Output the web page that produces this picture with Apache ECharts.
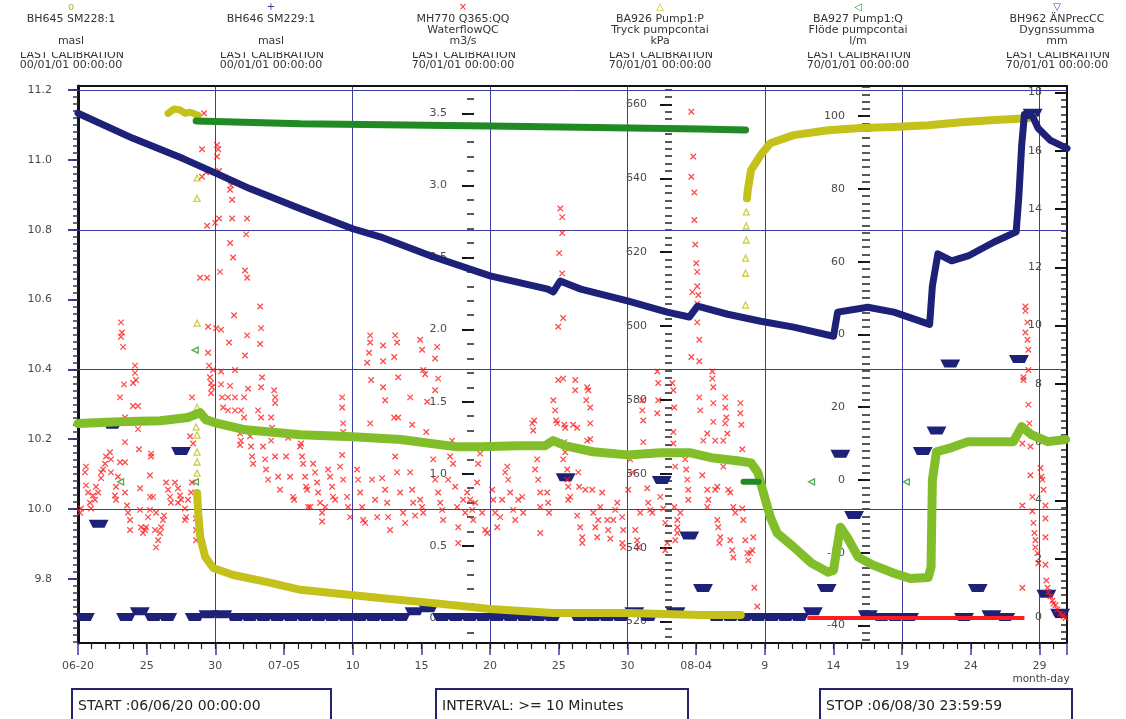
<!DOCTYPE html>
<html><head><meta charset="utf-8">
<script src="https://cdn.jsdelivr.net/npm/echarts@6/dist/echarts.min.js"></script>
<style>html,body{margin:0;padding:0;background:#fff}#c{width:1126px;height:719px}</style>
</head><body><div id="c"></div><script>
// ---------- tick labels ----------
const xTickLabels = ['06-20','25','30','07-05','10','15','20','25','30','08-04','9','14','19','24','29'];
const maslTicks = [9.8,10.0,10.2,10.4,10.6,10.8,11.0,11.2];
const maslGridLines = [10.0,10.4,10.8,11.2];
const flowTicks = [0,0.5,1.0,1.5,2.0,2.5,3.0,3.5];
const kpaTicks = [520,540,560,580,600,620,640,660];
const lpmTicks = [-40,-20,0,20,40,60,80,100];
const mmTicks = [0,2,4,6,8,10,12,14,16,18];

// ---------- data (x = days since 06/06/20 00:00) ----------
// BH645 SM228:1 (masl)
const bh645 = [[0,10.245],[3.0,10.25],[6.0,10.253],[8.0,10.262],[8.9,10.276],[9.3,10.256],[10.0,10.247],[12.2,10.227],[16.2,10.213],[20.0,10.207],[23.5,10.199],[27.6,10.178],[29.3,10.178],[32.0,10.181],[34.0,10.181],[34.6,10.196],[35.5,10.181],[37.5,10.164],[40.0,10.155],[42.4,10.161],[44.6,10.161],[46.1,10.147],[48.0,10.138],[49.0,10.132],[49.5,10.104],[49.9,10.046],[50.4,9.977],[50.9,9.931],[52.1,9.891],[53.4,9.845],[54.6,9.819],[55.0,9.824],[55.5,9.948],[56.0,9.919],[56.8,9.862],[57.9,9.839],[59.4,9.816],[60.6,9.801],[61.9,9.804],[62.1,9.833],[62.2,10.083],[62.5,10.164],[63.6,10.176],[64.8,10.193],[66.7,10.193],[68.1,10.193],[68.7,10.236],[69.4,10.213],[70.6,10.193],[71.9,10.199]];
// BH646 SM229:1 (masl)
const bh646 = [[0,11.134],[4.0,11.062],[7.65,11.004],[10.1,10.961],[12.5,10.918],[16.2,10.86],[20.0,10.803],[22.0,10.78],[25.7,10.725],[30.0,10.668],[34.2,10.63],[34.6,10.622],[35.1,10.653],[36.6,10.63],[40.0,10.596],[42.9,10.564],[44.5,10.55],[45.1,10.581],[47.3,10.558],[49.7,10.538],[52.1,10.521],[55.0,10.495],[55.3,10.564],[57.5,10.578],[59.4,10.564],[62.0,10.529],[62.2,10.639],[62.6,10.731],[63.6,10.711],[64.8,10.725],[66.7,10.765],[68.3,10.794],[68.5,10.898],[68.7,11.042],[68.9,11.13],[69.5,11.125],[69.9,11.091],[70.8,11.056],[72.0,11.033]];
// MH770 Q365:QQ Waterflow (m3/s)
const mh770 = [
[0.15,0.73],[0.22,0.76],[0.58,1.05],[0.51,1.01],[0.58,0.92],[0.73,0.87],[1.09,0.85],[1.24,0.82],[0.95,0.76],[0.87,0.80],[1.31,0.91],[1.46,0.87],
[2.33,1.15],[2.04,1.12],[1.97,1.07],[1.82,1.03],[1.68,1.01],[1.68,0.97],[2.40,1.10],[2.40,1.01],
[3.06,1.08],[3.42,1.08],[2.91,0.98],[2.77,0.91],[2.69,0.85],[2.77,0.82],
[3.13,2.05],[3.20,1.98],[3.13,1.95],[3.28,1.88],
[4.15,1.75],[4.15,1.70],[4.22,1.65],[4.01,1.63],[3.35,1.62],[3.06,1.53],[4.01,1.47],[4.37,1.47],[3.42,1.39],[4.37,1.31],[3.42,1.22],[4.44,1.17],
[3.42,0.87],[3.57,0.78],[3.64,0.73],[3.79,0.68],[3.79,0.61],[4.52,0.90],[4.52,0.75],[4.59,0.63],[4.73,0.59],[4.88,0.61],[4.95,0.63],[5.10,0.70],[5.24,0.75],
[5.32,1.14],[5.32,1.12],[5.24,0.99],[5.24,0.84],[5.46,0.84],
[5.68,0.73],[5.61,0.61],[5.83,0.54],[5.68,0.49],[5.97,0.59],[6.05,0.63],[6.19,0.68],[6.26,0.71],
[6.41,0.94],[6.56,0.89],[6.70,0.84],[6.77,0.80],[7.06,0.94],[7.28,0.90],[7.43,0.85],[7.28,0.80],[7.50,0.82],
[7.79,0.76],[7.87,0.70],[7.79,0.68],[8.01,0.82],[8.23,0.87],[8.30,0.94],
[8.30,1.53],[8.16,1.26],[8.38,1.21],[8.59,0.69],[8.59,0.61],[8.59,0.54],
[9.18,3.50],[9.03,3.25],[10.12,3.28],[10.20,3.25],[10.12,3.20],[9.03,3.06],[9.32,3.09],[10.27,3.10],[11.14,3.00],[11.07,2.97],[11.22,2.90],
[9.40,2.72],[9.98,2.74],[10.27,2.77],[11.22,2.77],[12.31,2.77],[12.24,2.66],[11.07,2.60],[11.29,2.50],[8.89,2.36],[9.40,2.36],[10.34,2.40],[12.16,2.41],[12.31,2.36],
[11.36,2.10],[13.26,2.16],[13.33,2.01],[9.47,2.02],[10.05,2.01],[10.42,2.00],[11.00,1.91],[12.31,1.96],[13.26,1.90],[12.16,1.82],[9.47,1.84],
[9.54,1.75],[9.83,1.72],[10.42,1.71],[11.43,1.72],[13.40,1.67],[9.61,1.67],[9.69,1.63],[9.76,1.60],[9.69,1.56],[13.33,1.60],[12.38,1.59],[10.42,1.62],[11.07,1.61],
[10.49,1.53],[10.92,1.53],[11.43,1.53],[12.09,1.53],[10.56,1.46],[10.92,1.44],[11.43,1.44],[11.87,1.44],[12.09,1.39],[13.11,1.44],[13.33,1.39],
[14.28,1.58],[14.35,1.53],[14.35,1.49],[14.06,1.39],[14.13,1.32],[10.71,1.34],[11.51,1.32],[11.80,1.28],[11.87,1.23],[11.80,1.20],
[12.53,1.26],[12.60,1.19],[12.67,1.12],[12.75,1.07],[13.47,1.19],[13.62,1.10],[13.69,1.03],[13.84,0.96],[14.06,1.23],[14.35,1.12],[14.57,0.98],[14.71,0.89],
[15.30,1.25],[15.15,1.12],[15.44,0.98],[15.66,0.84],[15.73,0.82],[16.24,1.21],[16.39,1.07],[16.61,0.91],[16.75,0.77],
[16.17,1.19],[16.31,1.12],[16.53,0.98],[16.68,0.89],[16.90,0.77],
[17.12,1.07],[17.26,1.01],[17.41,0.94],[17.48,0.87],[17.63,0.80],[17.77,0.73],[17.77,0.67],
[17.99,0.77],[18.21,1.03],[18.35,0.98],[18.50,0.91],[18.57,0.84],[18.72,0.82],
[19.23,1.53],[19.23,1.46],[19.30,1.35],[19.30,1.29],[19.23,1.13],[19.08,1.05],[19.30,0.96],[19.59,0.84],[19.66,0.77],[19.81,0.70],
[20.32,1.03],[20.39,0.96],[20.54,0.87],[20.68,0.77],[20.76,0.68],[20.90,0.66],
[21.05,1.77],[21.27,1.96],[21.27,1.91],[21.19,1.84],[21.34,1.65],[21.27,1.35],[21.41,0.96],[21.63,0.82],[21.78,0.70],
[22.21,1.89],[22.21,1.78],[22.21,1.60],[22.36,1.51],[22.14,0.97],[22.36,0.89],[22.51,0.80],[22.58,0.70],[22.72,0.61],
[23.09,1.96],[23.23,1.91],[23.02,1.81],[23.31,1.67],[23.02,1.39],[23.31,1.39],
[23.09,1.12],[23.23,1.01],[23.45,0.87],[23.67,0.73],[23.82,0.66],[24.18,1.53],[24.33,1.34],
[24.18,1.01],[24.33,0.89],[24.40,0.80],[24.54,0.71],[24.76,1.22],
[24.91,1.93],[25.05,1.86],[25.13,1.72],[25.27,1.69],[24.91,0.82],[25.05,0.77],[25.13,0.73],[25.42,1.50],[25.35,1.29],
[26.15,1.88],[26.00,1.80],[26.22,1.66],[26.00,1.58],
[25.86,1.10],[26.00,0.96],[26.22,0.87],[26.37,0.80],[26.51,0.75],[26.58,0.68],[26.95,0.96],[27.09,1.12],[27.24,1.23],
[27.31,1.07],[27.46,0.91],[27.60,0.77],[27.68,0.63],[27.68,0.52],[28.04,0.82],[28.19,0.73],[28.33,0.87],
[28.55,0.82],[28.70,0.75],[28.77,0.68],[29.28,1.14],[29.13,1.07],[29.06,0.94],[28.92,0.80],[29.42,0.73],[29.64,0.61],[29.79,0.59],
[30.15,0.89],[30.23,0.82],[30.37,0.73],[30.52,0.63],[30.74,0.70],[30.88,0.82],[31.10,1.01],[31.25,1.05],
[31.32,0.96],[31.46,0.87],[31.68,0.75],[31.83,0.68],[32.05,0.82],[32.34,0.84],[32.41,0.73],
[33.07,1.35],[33.14,1.30],[33.21,1.37],[33.14,1.19],[33.43,1.10],[33.28,1.03],[33.50,0.96],[33.65,0.87],[33.65,0.77],[33.65,0.59],
[34.16,0.87],[34.23,0.80],[34.30,0.73],[34.60,1.51],[34.74,1.44],[34.81,1.37],[34.89,1.35],
[34.96,1.65],[35.32,1.66],[34.96,2.02],[35.32,2.08],[35.11,2.84],[35.25,2.78],[35.25,2.67],[35.03,2.53],[35.25,2.39],
[35.47,1.32],[35.32,1.10],[35.62,1.03],[35.62,0.96],[35.69,0.91],[35.83,0.84],
[36.20,1.65],[36.20,1.58],[36.34,1.32],[36.42,1.01],[36.49,0.91],
[35.40,1.34],[36.05,1.34],[37.29,1.35],[37.07,1.23],[37.29,1.24],[37.07,1.60],[37.15,1.58],[37.00,1.51],[37.29,1.46],
[35.40,1.22],[35.47,1.15],[35.69,0.82],[36.34,0.71],[36.56,0.63],[36.71,0.56],[36.71,0.52],[36.93,0.89],[37.44,0.89],
[37.51,0.73],[37.66,0.63],[37.80,0.56],[37.87,0.68],[38.02,0.77],[38.16,0.87],
[38.53,0.68],[38.60,0.61],[38.75,0.55],[38.97,0.68],[39.11,0.75],[39.26,0.80],
[39.62,0.70],[39.69,0.61],[39.62,0.52],[39.69,0.49],[40.06,0.89],[40.20,1.10],[40.35,1.01],
[40.57,0.61],[40.71,0.54],[40.93,0.73],[40.79,0.49],[41.08,1.51],[41.08,1.44],[41.15,1.37],[41.15,1.22],
[41.44,0.90],[41.51,0.80],[41.66,0.75],[41.81,0.73],[42.24,1.51],[42.17,1.42],[42.17,1.15],[42.17,1.71],[42.24,1.63],
[42.39,0.84],[42.61,0.76],[42.75,0.66],[42.90,0.52],[42.75,0.47],
[43.26,1.63],[43.34,1.58],[43.41,1.46],[43.34,1.29],[43.34,1.21],[43.48,1.05],[43.41,0.77],[43.63,0.68],[43.63,0.59],[43.48,0.54],
[44.21,1.10],[44.28,1.03],[44.36,0.96],[44.43,0.89],[44.43,0.82],[43.85,0.73],[43.63,0.63],
[44.65,3.51],[44.79,3.20],[44.65,3.06],[44.87,2.95],[44.87,2.76],[44.94,2.59],[45.01,2.46],[45.08,2.40],[45.08,2.30],[44.72,2.26],[45.16,2.24],[45.08,2.18],[45.08,2.05],[45.23,1.93],[44.65,1.81],[45.23,1.78],
[45.23,1.53],[45.30,1.44],[45.52,1.23],[45.81,1.28],
[46.18,1.71],[46.18,1.66],[46.25,1.60],[46.25,1.49],[46.25,1.36],[46.39,1.23],
[45.45,0.99],[45.81,0.89],[45.89,0.82],[45.81,0.77],[46.39,0.89],[46.54,0.91],
[46.54,0.68],[46.61,0.63],[46.76,0.56],[46.69,0.52],
[47.12,1.53],[47.12,1.46],[47.20,1.39],[47.12,1.35],[47.27,1.28],[46.98,1.23],
[46.98,1.05],[47.34,0.89],[47.49,0.87],[47.71,0.77],[47.85,0.73],[47.49,0.54],[47.63,0.47],[47.71,0.42],
[48.22,1.49],[48.22,1.42],[48.29,1.34],[48.36,1.17],
[48.36,0.76],[48.43,0.68],[48.58,0.54],[48.73,0.45],[48.80,0.40],[48.94,0.45],[49.09,0.47],[49.16,0.56],[49.24,0.21],[49.45,0.08],
[68.97,2.16],[68.97,2.13],[69.12,2.05],[68.97,1.98],[69.12,1.93],[69.19,1.86],[68.83,1.67],[69.19,1.72],
[68.83,1.65],[69.19,1.48],[69.26,1.35],[68.75,1.21],[69.34,1.19],
[70.07,1.04],[70.14,0.98],[70.21,0.96],[70.29,0.89],[69.34,0.99],[69.48,0.84],
[68.75,0.78],[69.48,0.74],[69.56,0.66],[69.63,0.59],[69.70,0.54],[69.70,0.49],[69.85,0.45],[69.92,0.38],
[70.43,0.78],[70.43,0.69],[70.43,0.56],[70.43,0.37],[70.50,0.26],[70.58,0.21],[70.65,0.18],[70.79,0.15],[70.94,0.12],[71.01,0.10],[71.16,0.09],[71.30,0.06],[71.52,0.03],[71.67,0.02],[71.74,0.01],[71.89,0.0],[68.75,0.21]
];
const mh770Zero = [[53.1,0],[68.9,0]];
// BA926 Pump1:P (kPa)
const ba926Plateau = [[6.56,657.6],[7.0,658.8],[7.43,658.5],[7.8,657.6],[8.16,657.9],[8.75,657.1]];
const ba926Decay = [[8.67,554.8],[8.75,549.4],[8.9,542.9],[9.26,537.5],[9.84,534.5],[11.3,532.6],[13.8,530.7],[16.2,528.6],[22.0,526.4],[25.9,525.0],[30.0,523.4],[34.6,522.3],[40.0,522.3],[45.3,521.8],[48.25,521.8]];
const ba926Rise = [[48.7,634.6],[48.76,636.8],[49.0,642.2],[49.7,646.3],[50.4,649.5],[52.1,651.7],[54.6,653.0],[57.0,653.6],[59.4,653.9],[61.9,654.4],[64.3,655.2],[66.7,655.8],[69.2,656.3],[69.5,656.6]];
const ba926Points = [[8.67,640.1],[8.67,634.6],[8.67,600.8],[8.67,578],[8.6,572.7],[8.67,570.5],[8.67,565.9],[8.67,563.2],[8.67,560.2],[48.6,605.7],[48.6,614.3],[48.6,618.4],[48.65,623.3],[48.65,627.1],[48.65,630.9]];
// BA927 Pump1:Q (l/m)
const ba927Band = [[8.6,98.7],[16.2,97.9],[30.0,97.3],[45.3,96.5],[48.6,96.2]];
const ba927Zero = [[48.45,-0.5],[49.55,-0.5]];
const ba927Points = [[3.1,-0.5],[8.53,35.7],[8.55,-0.5],[53.4,-0.5],[60.3,-0.5]];
// BH962 ANPrecCC daily sums (mm), one per day from 06-20
const bh962Daily = [0,3.2,6.6,0,0.2,0,0,5.7,0,0.1,0.1,0,0,0,0,0,0,0,0,0,0,0,0,0,0.2,0.3,0,0,0,0,0,0,0,0,0,4.8,0,0,0,0,0.2,0,4.7,0.2,2.8,1.0,0,0,0,0,0,0,0,0.2,1.0,5.6,3.5,0.1,0,0,0,5.7,6.4,8.7,0,1.0,0.1,0,8.85,17.3,0.8,0.15];

// ---------- helpers ----------
function steps(a, b, s) { const out = []; const n = Math.round((b - a) / s); for (let i = 0; i <= n; i++) out.push(+(a + i * s).toFixed(4)); return out; }
const FONT = 'DejaVu Sans';
const NAVY = '#1d2278';
const GRIDC = '#3d3d9e';

function majorAxis(o) {
  return {
    type: 'value', min: o.min, max: o.max, position: o.pos, offset: o.offset || 0,
    axisLine: { show: !!o.line, onZero: false, lineStyle: { color: '#111', width: o.line || 1 } },
    axisTick: { show: true, inside: !!o.inside, length: o.tickLen || 12, customValues: o.ticks, lineStyle: { color: o.tickColor || '#111', width: 2 } },
    axisLabel: { show: true, inside: !!o.inside, margin: o.margin, customValues: o.ticks, formatter: o.fmt, color: '#4a4a4a', fontFamily: FONT, fontSize: 11, hideOverlap: false },
    splitLine: { show: false }, minorTick: { show: false }, axisPointer: { show: false }
  };
}
function minorAxis(o) {
  return {
    type: 'value', min: o.min, max: o.max, position: o.pos, offset: o.offset || 0,
    axisLine: { show: false, onZero: false },
    axisTick: { show: true, inside: !!o.inside, length: o.tickLen || 7, customValues: o.ticks, lineStyle: { color: o.tickColor || '#222', width: 1.5 } },
    axisLabel: { show: false }, splitLine: { show: false }, axisPointer: { show: false }
  };
}
const f1 = v => v.toFixed(1);
const f0 = v => String(Math.round(v));

const yAxes = [
  majorAxis({ min: 9.616, max: 11.212, pos: 'left', line: 3, ticks: maslTicks, tickLen: 10, tickColor: GRIDC, margin: 26, fmt: f1 }),
  minorAxis({ min: 9.616, max: 11.212, pos: 'left', ticks: steps(9.62, 11.2, 0.02), tickLen: 5, tickColor: '#333366' }),
  majorAxis({ min: -0.173, max: 3.689, pos: 'left', offset: -396, ticks: flowTicks, tickLen: 12, margin: 27, fmt: f1 }),
  minorAxis({ min: -0.173, max: 3.689, pos: 'left', offset: -396, ticks: steps(-0.1, 3.6, 0.1), tickLen: 7 }),
  majorAxis({ min: 514.2, max: 665, pos: 'left', offset: -594, ticks: kpaTicks, tickLen: 12, margin: 25, fmt: f0 }),
  minorAxis({ min: 514.2, max: 665, pos: 'left', offset: -594, ticks: steps(516, 664, 2), tickLen: 7 }),
  majorAxis({ min: -44.8, max: 108.3, pos: 'left', offset: -792, ticks: lpmTicks, tickLen: 12, margin: 25, fmt: f0 }),
  minorAxis({ min: -44.8, max: 108.3, pos: 'left', offset: -792, ticks: steps(-44, 108, 2), tickLen: 8 }),
  majorAxis({ min: -0.89, max: 18.22, pos: 'right', line: 2, inside: true, ticks: mmTicks, tickLen: 12, margin: 25, fmt: f0 }),
  minorAxis({ min: -0.89, max: 18.22, pos: 'right', inside: true, ticks: steps(-0.75, 18, 0.25), tickLen: 6 })
];

const xAxes = [
  { type: 'value', min: 0, max: 72, interval: 5, position: 'bottom',
    axisLine: { onZero: false, lineStyle: { color: '#111', width: 2 } },
    axisTick: { length: 12, lineStyle: { color: GRIDC, width: 1.5 } },
    axisLabel: { margin: 18, color: '#4a4a4a', fontFamily: FONT, fontSize: 11, hideOverlap: false,
      formatter: v => (v % 5 === 0 && v / 5 < xTickLabels.length) ? xTickLabels[v / 5] : '' },
    splitLine: { show: false }, minorTick: { show: false } },
  { type: 'value', min: 0, max: 72, interval: 10, position: 'top',
    axisLine: { show: true, onZero: false, lineStyle: { color: '#111', width: 2 } },
    axisTick: { show: false }, axisLabel: { show: false },
    splitLine: { show: true, lineStyle: { color: GRIDC, width: 1 } } },
  { type: 'value', min: 0, max: 72, position: 'bottom',
    axisLine: { show: false, onZero: false },
    axisTick: { show: true, length: 6, customValues: steps(1, 71, 1), lineStyle: { color: '#222', width: 1.2 } },
    axisLabel: { show: false }, splitLine: { show: false } }
];

const lineBase = { type: 'line', showSymbol: false, symbol: 'none', silent: true, animation: false, connectNulls: false };

const series = [
  Object.assign({}, lineBase, { name: 'grid', data: [], yAxisIndex: 0,
    markLine: { z: 1, silent: true, symbol: 'none', label: { show: false }, animation: false,
      lineStyle: { color: GRIDC, width: 1, type: 'solid' },
      data: maslGridLines.map(v => ({ yAxis: v })) } }),
  Object.assign({}, lineBase, { name: 'BH645', data: bh645, yAxisIndex: 0, lineStyle: { color: '#82be2a', width: 9, cap: 'round', join: 'round' } }),
  Object.assign({}, lineBase, { name: 'BA926a', data: ba926Plateau, yAxisIndex: 4, lineStyle: { color: '#c3c11a', width: 7, cap: 'round', join: 'round' } }),
  Object.assign({}, lineBase, { name: 'BA926b', data: ba926Decay, yAxisIndex: 4, lineStyle: { color: '#c3c11a', width: 8, cap: 'round', join: 'round' } }),
  Object.assign({}, lineBase, { name: 'BA926c', data: ba926Rise, yAxisIndex: 4, lineStyle: { color: '#c3c11a', width: 8, cap: 'round', join: 'round' } }),
  { type: 'scatter', name: 'BA926p', data: ba926Points, yAxisIndex: 4, symbol: 'triangle', symbolSize: 6, silent: true, animation: false,
    itemStyle: { color: 'rgba(0,0,0,0)', borderColor: '#c3c11a', borderWidth: 1.3 } },
  Object.assign({}, lineBase, { name: 'BA927a', data: ba927Band, yAxisIndex: 6, lineStyle: { color: '#218a24', width: 7, cap: 'round' } }),
  Object.assign({}, lineBase, { name: 'BA927b', data: ba927Zero, yAxisIndex: 6, lineStyle: { color: '#218a24', width: 6, cap: 'round' } }),
  { type: 'scatter', name: 'BA927p', data: ba927Points, yAxisIndex: 6, symbol: 'triangle', symbolRotate: 90, symbolSize: 6, silent: true, animation: false,
    itemStyle: { color: 'rgba(0,0,0,0)', borderColor: '#2a962a', borderWidth: 1.3 } },
  Object.assign({}, lineBase, { name: 'BH646', data: bh646, yAxisIndex: 0, lineStyle: { color: NAVY, width: 7, cap: 'round', join: 'round' } }),
  Object.assign({}, lineBase, { name: 'MH770zero', data: mh770Zero, yAxisIndex: 2, lineStyle: { color: '#ff1e1e', width: 4 } }),
  { type: 'scatter', name: 'MH770', data: mh770, yAxisIndex: 2, symbol: 'path://M0 0L10 10M10 0L0 10', symbolSize: 5.5, silent: true, animation: false,
    itemStyle: { color: 'rgba(0,0,0,0)', borderColor: '#ff1e1e', borderWidth: 1.3 } },
  { type: 'custom', name: 'BH962', yAxisIndex: 8, silent: true, animation: false,
    data: bh962Daily.map((v, i) => [i, v]), encode: { x: 0, y: 1 },
    renderItem: function (params, api) {
      const d = api.value(0), v = api.value(1);
      const p0 = api.coord([d, v]), p1 = api.coord([d + 1, v]);
      return { type: 'polygon', shape: { points: [[p0[0] - 3, p0[1] - 4], [p1[0] + 3, p1[1] - 4], [p1[0] - 1, p1[1] + 4], [p0[0] + 1, p0[1] + 4]] },
        style: { fill: NAVY } };
    } }
];

// ---------- header / footer text ----------
const headerCols = [
  { x: 71, sym: 'o', c: '#8cc63f', l1: 'BH645 SM228:1', l2: '', l3: 'masl', date: '00/01/01 00:00:00' },
  { x: 271, sym: '+', c: '#3333aa', l1: 'BH646 SM229:1', l2: '', l3: 'masl', date: '00/01/01 00:00:00' },
  { x: 463, sym: '×', c: '#ff2020', l1: 'MH770 Q365:QQ', l2: 'WaterflowQC', l3: 'm3/s', date: '70/01/01 00:00:00' },
  { x: 660, sym: '△', c: '#c8c400', l1: 'BA926 Pump1:P', l2: 'Tryck pumpcontai', l3: 'kPa', date: '70/01/01 00:00:00' },
  { x: 858, sym: '◁', c: '#2e9a2e', l1: 'BA927 Pump1:Q', l2: 'Flöde pumpcontai', l3: 'l/m', date: '70/01/01 00:00:00' },
  { x: 1057, sym: '▽', c: '#3333aa', l1: 'BH962 ÄNPrecCC', l2: 'Dygnssumma', l3: 'mm', date: '70/01/01 00:00:00' }
];
function txt(x, y, t, o) {
  o = o || {};
  return { type: 'text', x: x, y: y, silent: true, z: o.z || 10,
    style: { text: t, fill: o.fill || '#333', font: (o.size || 11) + 'px "' + FONT + '"', textAlign: o.align || 'center', textVerticalAlign: 'middle' } };
}
const graphics = [];
headerCols.forEach(h => {
  graphics.push(txt(h.x, 7, h.sym, { fill: h.c, size: 10 }));
  graphics.push(txt(h.x, 19, h.l1));
  if (h.l2) graphics.push(txt(h.x, 30, h.l2));
  graphics.push(txt(h.x, 41, h.l3));
  graphics.push(txt(h.x + 1, 55, 'LAST CALIBRATION'));
  graphics.push(txt(h.x, 65, h.date));
});
graphics.push({ type: 'rect', silent: true, z: 11, shape: { x: 0, y: 47, width: 1126, height: 5 }, style: { fill: '#fff' } });
graphics.push(txt(1041, 679, 'month-day', { size: 10.5, fill: '#444' }));
const footer = [
  { x: 72, w: 259, t: 'START :06/06/20 00:00:00' },
  { x: 436, w: 252, t: 'INTERVAL: >= 10 Minutes' },
  { x: 820, w: 252, t: 'STOP :06/08/30 23:59:59' }
];
footer.forEach(f => {
  graphics.push({ type: 'rect', silent: true, z: 10, shape: { x: f.x, y: 689, width: f.w, height: 34 }, style: { fill: '#fff', stroke: '#23236e', lineWidth: 2 } });
  graphics.push(txt(f.x + 6, 706, f.t, { align: 'left', size: 14, fill: '#222', z: 11 }));
});

const chart = echarts.init(document.getElementById('c'), null, { renderer: 'canvas' });
chart.setOption({
  animation: false,
  backgroundColor: '#fff',
  grid: { left: 78, right: 59, top: 86, bottom: 76, containLabel: false, outerBoundsMode: 'none' },
  xAxis: xAxes,
  yAxis: yAxes,
  series: series,
  graphic: { elements: graphics }
});
</script></body></html>
